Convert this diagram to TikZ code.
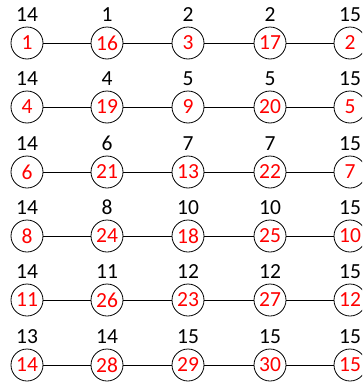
\documentclass[tikz,border=0pt]{standalone}
\usepackage{fontspec}
\setmainfont{Carlito}
\usetikzlibrary{positioning}
\definecolor{numred}{RGB}{255,0,0}

\begin{document}
\begin{tikzpicture}[
    x=1pt, y=-1pt,
    vert/.style={circle, draw, line width=0.8pt, minimum size=32pt, inner sep=0pt, text=numred, font=\fontsize{21.5}{21.5}\selectfont},
    lab/.style={font=\fontsize{21.5}{21.5}\selectfont, inner sep=0pt, label distance=5pt},
    link/.style={line width=0.8pt}
]
\clip (0,0) rectangle (362,383);
\useasboundingbox (0,0) rectangle (362,383);

% ============ row 1 ============
\node[vert, label={[lab]above:14}] (r1a) at (27,43) {1};
\node[vert, label={[lab]above:1}] (r1b) at (107,43) {16};
\node[vert, label={[lab]above:2}] (r1c) at (188,43) {3};
\node[vert, label={[lab]above:2}] (r1d) at (270,43) {17};
\node[vert, label={[lab]above:15}] (r1e) at (350,43) {2};
\draw[link] (r1a) -- (r1b) (r1b) -- (r1c) (r1c) -- (r1d) (r1d) -- (r1e);

% ============ row 2 ============
\node[vert, label={[lab]above:14}] (r2a) at (27,107) {4};
\node[vert, label={[lab]above:4}] (r2b) at (107,107) {19};
\node[vert, label={[lab]above:5}] (r2c) at (188,107) {9};
\node[vert, label={[lab]above:5}] (r2d) at (270,107) {20};
\node[vert, label={[lab]above:15}] (r2e) at (350,107) {5};
\draw[link] (r2a) -- (r2b) (r2b) -- (r2c) (r2c) -- (r2d) (r2d) -- (r2e);

% ============ row 3 ============
\node[vert, label={[lab]above:14}] (r3a) at (27,172) {6};
\node[vert, label={[lab]above:6}] (r3b) at (107,172) {21};
\node[vert, label={[lab]above:7}] (r3c) at (188,172) {13};
\node[vert, label={[lab]above:7}] (r3d) at (270,172) {22};
\node[vert, label={[lab]above:15}] (r3e) at (350,172) {7};
\draw[link] (r3a) -- (r3b) (r3b) -- (r3c) (r3c) -- (r3d) (r3d) -- (r3e);

% ============ row 4 ============
\node[vert, label={[lab]above:14}] (r4a) at (27,236) {8};
\node[vert, label={[lab]above:8}] (r4b) at (107,236) {24};
\node[vert, label={[lab]above:10}] (r4c) at (188,236) {18};
\node[vert, label={[lab]above:10}] (r4d) at (270,236) {25};
\node[vert, label={[lab]above:15}] (r4e) at (350,236) {10};
\draw[link] (r4a) -- (r4b) (r4b) -- (r4c) (r4c) -- (r4d) (r4d) -- (r4e);

% ============ row 5 ============
\node[vert, label={[lab]above:14}] (r5a) at (27,300) {11};
\node[vert, label={[lab]above:11}] (r5b) at (107,300) {26};
\node[vert, label={[lab]above:12}] (r5c) at (188,300) {23};
\node[vert, label={[lab]above:12}] (r5d) at (270,300) {27};
\node[vert, label={[lab]above:15}] (r5e) at (350,300) {12};
\draw[link] (r5a) -- (r5b) (r5b) -- (r5c) (r5c) -- (r5d) (r5d) -- (r5e);

% ============ row 6 ============
\node[vert, label={[lab]above:13}] (r6a) at (27,365) {14};
\node[vert, label={[lab]above:14}] (r6b) at (107,365) {28};
\node[vert, label={[lab]above:15}] (r6c) at (188,365) {29};
\node[vert, label={[lab]above:15}] (r6d) at (270,365) {30};
\node[vert, label={[lab]above:15}] (r6e) at (350,365) {15};
\draw[link] (r6a) -- (r6b) (r6b) -- (r6c) (r6c) -- (r6d) (r6d) -- (r6e);

\end{tikzpicture}
\end{document}
